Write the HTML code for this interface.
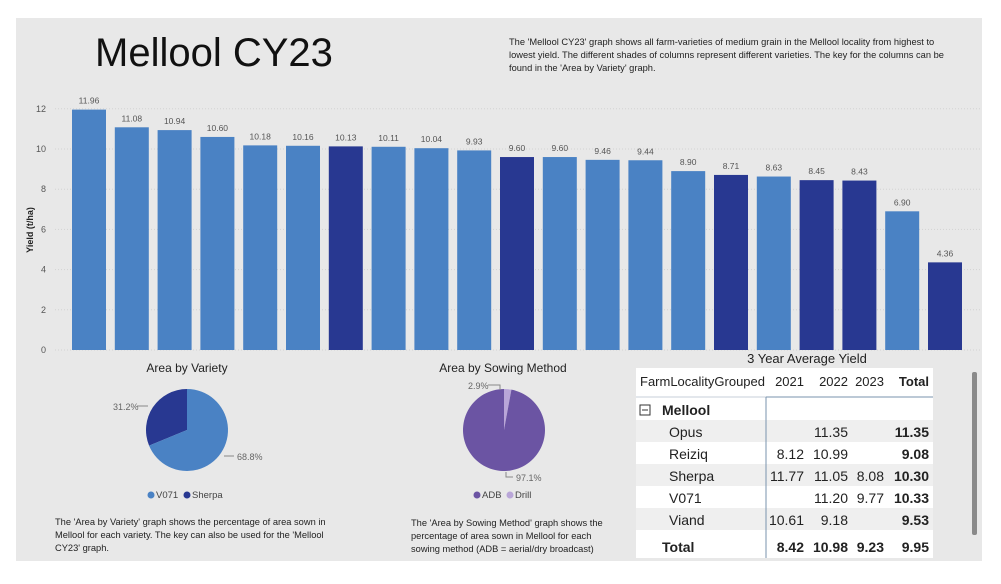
<!DOCTYPE html>
<html><head><meta charset="utf-8"><style>
body{margin:0;width:1001px;height:579px;background:#fff;font-family:"Liberation Sans",sans-serif;overflow:hidden}
</style></head><body>
<svg width="1001" height="579" xmlns="http://www.w3.org/2000/svg" style="font-family:'Liberation Sans',sans-serif">
<rect x="16" y="18" width="966" height="543" fill="#e8e8e8"/>
<text x="95" y="66" font-size="40" fill="#111">Mellool CY23</text>
<g font-size="9.3" fill="#222">
<text x="509" y="45">The 'Mellool CY23' graph shows all farm-varieties of medium grain in the Mellool locality from highest to</text>
<text x="509" y="58">lowest yield. The different shades of columns represent different varieties. The key for the columns can be</text>
<text x="509" y="71">found in the 'Area by Variety' graph.</text>
</g>
<text transform="translate(33,230) rotate(-90)" text-anchor="middle" font-size="9" font-weight="bold" fill="#222">Yield (t/ha)</text>
<g id="grid"></g>
<g id="bars"></g>

<text x="187" y="372" text-anchor="middle" font-size="12" fill="#222">Area by Variety</text>
<g id="pie1"></g>
<g font-size="9" fill="#666">
<text x="113" y="410">31.2%</text><path d="M137 406 H148" stroke="#888"/>
<path d="M224 456 H234" stroke="#888"/><text x="237" y="460">68.8%</text>
</g>
<g font-size="9.5" fill="#444">
<circle cx="151" cy="495" r="3.5" fill="#4a82c4"/><text x="156" y="498">V071</text>
<circle cx="187" cy="495" r="3.5" fill="#283891"/><text x="192" y="498">Sherpa</text>
</g>
<g font-size="9.3" fill="#222">
<text x="55" y="525">The 'Area by Variety' graph shows the percentage of area sown in</text>
<text x="55" y="538">Mellool for each variety. The key can also be used for the 'Mellool</text>
<text x="55" y="551">CY23' graph.</text>
</g>

<text x="503" y="372" text-anchor="middle" font-size="12" fill="#222">Area by Sowing Method</text>
<g id="pie2"></g>
<g font-size="9" fill="#666">
<text x="468" y="389">2.9%</text><path d="M488 385 H500 V390" stroke="#888" fill="none"/>
<path d="M506 472 V477 H513" stroke="#888" fill="none"/><text x="516" y="481">97.1%</text>
</g>
<g font-size="9.5" fill="#444">
<circle cx="477" cy="495" r="3.5" fill="#6b54a3"/><text x="482" y="498">ADB</text>
<circle cx="510" cy="495" r="3.5" fill="#b9a6d8"/><text x="515" y="498">Drill</text>
</g>
<g font-size="9.3" fill="#222">
<text x="411" y="526">The 'Area by Sowing Method' graph shows the</text>
<text x="411" y="539">percentage of area sown in Mellool for each</text>
<text x="411" y="552">sowing method (ADB = aerial/dry broadcast)</text>
</g>

<g>
<text x="807" y="363" text-anchor="middle" font-size="13" fill="#222">3 Year Average Yield</text>
<rect x="636" y="368" width="297" height="190" fill="#fff"/>
<rect x="636" y="420" width="297" height="22" fill="#efefef"/>
<rect x="636" y="464" width="297" height="22" fill="#efefef"/>
<rect x="636" y="508" width="297" height="22" fill="#efefef"/>
<line x1="636" y1="397" x2="933" y2="397" stroke="#c7cfd8"/>
<line x1="766" y1="397" x2="933" y2="397" stroke="#7a93ad"/>
<line x1="766" y1="397" x2="766" y2="558" stroke="#7a93ad"/>
<g font-size="13" fill="#222">
<text x="640" y="386">FarmLocalityGrouped</text>
<text x="804" y="386" text-anchor="end">2021</text>
<text x="848" y="386" text-anchor="end">2022</text>
<text x="884" y="386" text-anchor="end">2023</text>
<text x="929" y="386" text-anchor="end" font-weight="bold">Total</text>
<rect x="640" y="405" width="10" height="10" fill="none" stroke="#333"/><line x1="642" y1="410" x2="648" y2="410" stroke="#333"/>
<text x="662" y="415" font-size="14" font-weight="bold">Mellool</text>
</g>
<g font-size="14" fill="#222">
<text x="669" y="437">Opus</text><text x="848" y="437" text-anchor="end">11.35</text><text x="929" y="437" text-anchor="end" font-weight="bold">11.35</text>
<text x="669" y="459">Reiziq</text><text x="804" y="459" text-anchor="end">8.12</text><text x="848" y="459" text-anchor="end">10.99</text><text x="929" y="459" text-anchor="end" font-weight="bold">9.08</text>
<text x="669" y="481">Sherpa</text><text x="804" y="481" text-anchor="end">11.77</text><text x="848" y="481" text-anchor="end">11.05</text><text x="884" y="481" text-anchor="end">8.08</text><text x="929" y="481" text-anchor="end" font-weight="bold">10.30</text>
<text x="669" y="503">V071</text><text x="848" y="503" text-anchor="end">11.20</text><text x="884" y="503" text-anchor="end">9.77</text><text x="929" y="503" text-anchor="end" font-weight="bold">10.33</text>
<text x="669" y="525">Viand</text><text x="804" y="525" text-anchor="end">10.61</text><text x="848" y="525" text-anchor="end">9.18</text><text x="929" y="525" text-anchor="end" font-weight="bold">9.53</text>
<g font-weight="bold"><text x="662" y="552">Total</text><text x="804" y="552" text-anchor="end">8.42</text><text x="848" y="552" text-anchor="end">10.98</text><text x="884" y="552" text-anchor="end">9.23</text><text x="929" y="552" text-anchor="end">9.95</text></g>
</g>
<rect x="972" y="372" width="5" height="163" rx="2" fill="#8a8a8a"/>
</g>
</svg>
<script>
const categories=["1","2","3","4","5","6","7","8","9","10","11","12","13","14","15","16","17","18","19","20","21"];
const yields=[11.96,11.08,10.94,10.60,10.18,10.16,10.13,10.11,10.04,9.93,9.60,9.60,9.46,9.44,8.90,8.71,8.63,8.45,8.43,6.90,4.36];
const varieties=["V071","V071","V071","V071","V071","V071","Sherpa","V071","V071","V071","Sherpa","V071","V071","V071","V071","Sherpa","V071","Sherpa","Sherpa","V071","Sherpa"];
const yTicks=[0,2,4,6,8,10,12];
const varietyLabels=["V071","Sherpa"];
const varietyShares=[68.8,31.2];
const sowingLabels=["ADB","Drill"];
const sowingShares=[97.1,2.9];
const NS="http://www.w3.org/2000/svg";
const y0=350,pxPerUnit=20.1,x0=89,step=42.8,bw=34;
const yS=v=>y0-v*pxPerUnit, xS=i=>x0+i*step;
const colors={V071:"#4a82c4",Sherpa:"#283891"};
const grid=document.getElementById('grid');
yTicks.forEach(t=>{
 const l=document.createElementNS(NS,'line');
 
 
 l.setAttribute('x1',55);l.setAttribute('x2',980);l.setAttribute('y1',yS(t));l.setAttribute('y2',yS(t));
 l.setAttribute('stroke','#d2d2d2');l.setAttribute('stroke-dasharray','1 2');grid.appendChild(l);
 const tx=document.createElementNS(NS,'text');
 
 
 tx.setAttribute('x',46);tx.setAttribute('y',yS(t)+3);tx.setAttribute('text-anchor','end');tx.setAttribute('font-size','9');tx.setAttribute('fill','#555');
 tx.textContent=t;grid.appendChild(tx);
});
const bars=document.getElementById('bars');
yields.forEach((v,i)=>{
 const r=document.createElementNS(NS,'rect');
 
 
 r.setAttribute('x',xS(i)-bw/2);r.setAttribute('y',yS(v));r.setAttribute('width',bw);r.setAttribute('height',y0-yS(v));
 r.setAttribute('fill',colors[varieties[i]]);bars.appendChild(r);
 const t=document.createElementNS(NS,'text');
 
 
 t.setAttribute('x',xS(i));t.setAttribute('y',yS(v)-6);t.setAttribute('text-anchor','middle');t.setAttribute('font-size','8.5');t.setAttribute('fill','#555');
 t.textContent=v.toFixed(2);bars.appendChild(t);
});
function pie(gid,cx,cy,rx,ry,shares,cols,dir,name){
 const g=document.getElementById(gid);let a=0;const tot=shares.reduce((s,x)=>s+x,0);
 shares.forEach((s,i)=>{
  const a1=a+dir*s/tot*2*Math.PI;
  const p=(t)=>[cx+rx*Math.sin(t),cy-ry*Math.cos(t)];
  const [x1,y1]=p(a),[x2,y2]=p(a1);
  const large=s/tot>0.5?1:0,sw=dir>0?1:0;
  const path=document.createElementNS(NS,'path');
  
  
  path.setAttribute('d',`M${cx} ${cy} L${x1} ${y1} A${rx} ${ry} 0 ${large} ${sw} ${x2} ${y2} Z`);
  path.setAttribute('fill',cols[i]);g.appendChild(path);a=a1;
 });
}
pie('pie1',187,430,41,41,[varietyShares[1],varietyShares[0]],["#283891","#4a82c4"],-1,'variety-pie');
pie('pie2',504,430,41,41,[sowingShares[1],sowingShares[0]],["#b9a6d8","#6b54a3"],1,'sowing-pie');
</script>
</body></html>
